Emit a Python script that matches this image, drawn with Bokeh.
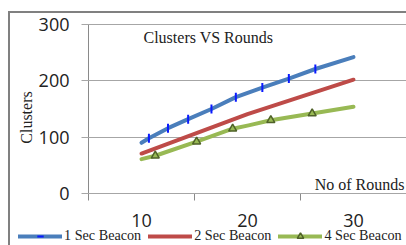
import math
from bokeh.plotting import figure
from bokeh.models import (FixedTicker, Label, Legend, LegendItem)
from bokeh.embed import file_html
from bokeh.resources import INLINE

# ---- data ----
x_ticks = [10, 20, 30]
x_tick_marks = [5, 15, 25, 35]
y_ticks = [0, 100, 200, 300]

beacon1_x = [10, 10.7, 12.5, 14.4, 16.6, 18.9, 21.4, 23.9, 26.4, 30]
beacon1_y = [90, 98, 116, 132, 150, 171, 188, 204, 221, 242]
beacon1_mark_x = [10.7, 12.5, 14.4, 16.6, 18.9, 21.4, 23.9, 26.4]
beacon1_mark_y = [98, 116, 132, 150, 171, 188, 204, 221]

beacon2_x = [10, 20, 30]
beacon2_y = [71, 141, 202]

beacon4_x = [10, 11.3, 15.2, 18.6, 20.1, 22.2, 26.1, 30]
beacon4_y = [61, 67, 92, 115, 121, 130, 142, 154]
beacon4_mark_x = [11.3, 15.2, 18.6, 22.2, 26.1]
beacon4_mark_y = [67, 92, 115, 130, 142]

series_labels = ["1 Sec Beacon", "2 Sec Beacon", "4 Sec Beacon"]
title_text = "Clusters VS Rounds"
x_title = "No of Rounds"
y_title = "Clusters"

BLUE = "#4a7ebb"
RED = "#be4b48"
GREEN = "#98b954"
AXIS = "#8a8a8a"
GRID = "#a6a6a6"
SERIF = "Liberation Serif"

W, H = 406, 245
AX_LEFT, AX_TOP, AX_BOTTOM = 88, 24, 193   # pixel positions of the value axes
xmin, xmax = 5, 35
ymin, ymax = 0, 300
xs = (W - AX_LEFT) / (xmax - xmin)
ys = (AX_BOTTOM - AX_TOP) / (ymax - ymin)
x_range = (xmin - AX_LEFT / xs, xmax)
y_range = (ymin - (H - AX_BOTTOM) / ys, ymax + AX_TOP / ys)

p = figure(width=W, height=H, output_backend="svg", toolbar_location=None,
           x_range=x_range, y_range=y_range,
           min_border_left=0, min_border_right=0, min_border_top=0, min_border_bottom=0)
p.border_fill_color = None
p.background_fill_color = None
p.outline_line_color = None
p.styles = {
    "background-image": "linear-gradient(#808080,#808080), linear-gradient(#808080,#808080)",
    "background-size": "2px 100%, 100% 2px",
    "background-position": "8px 11px, 8px 11px",
    "background-repeat": "no-repeat",
}
p.grid.visible = False

xa = p.xaxis[0]
xa.fixed_location = ymin
xa.bounds = (xmin, xmax)
xa.level = "underlay"
xa.ticker = FixedTicker(ticks=x_ticks, minor_ticks=x_tick_marks)
xa.axis_line_color = AXIS
xa.major_tick_line_color = None
xa.major_tick_out = 7
xa.major_tick_in = 0
xa.minor_tick_line_color = AXIS
xa.minor_tick_out = 7
xa.minor_tick_in = 0
xa.major_label_standoff = 13
xa.major_label_text_font = "Open Sans"
xa.major_label_text_font_size = "18px"
xa.major_label_text_color = "#222222"

ya = p.yaxis[0]
ya.fixed_location = xmin
ya.bounds = (ymin, ymax)
ya.level = "underlay"
ya.ticker = FixedTicker(ticks=y_ticks)
ya.axis_line_color = AXIS
ya.major_tick_line_color = GRID
ya.major_tick_out = 7
ya.major_tick_in = W - AX_LEFT
ya.minor_tick_line_color = None
ya.major_label_standoff = 12
ya.major_label_text_font = "Open Sans"
ya.major_label_text_font_size = "18px"
ya.major_label_text_color = "#222222"

r1 = p.line(beacon1_x, beacon1_y, line_color=BLUE, line_width=4, line_join="round", line_cap="round")
m1 = p.scatter(beacon1_mark_x, beacon1_mark_y, marker="dash", angle=math.pi / 2, size=9,
               line_color="#0a1aff", line_width=2)
r2 = p.line(beacon2_x, beacon2_y, line_color=RED, line_width=4, line_join="round", line_cap="round")
r4 = p.line(beacon4_x, beacon4_y, line_color=GREEN, line_width=4, line_join="round", line_cap="round")
m4 = p.scatter(beacon4_mark_x, beacon4_mark_y, marker="triangle", size=8,
               line_color="#4f6228", line_width=1.5, fill_color=GREEN)

legend = Legend(items=[
    LegendItem(label=series_labels[0], renderers=[r1, m1]),
    LegendItem(label=series_labels[1], renderers=[r2]),
    LegendItem(label=series_labels[2], renderers=[r4, m4]),
], location=(18, 1), orientation="horizontal")
legend.padding = 0
legend.margin = 0
legend.spacing = 7
legend.glyph_width = 44
legend.glyph_height = 16
legend.label_height = 16
legend.label_standoff = 2
legend.label_text_font = SERIF
legend.label_text_font_size = "14.2px"
legend.label_text_color = "#222222"
legend.border_line_color = None
legend.background_fill_color = None
p.add_layout(legend)

p.add_layout(Label(x=143, y=H - 37, x_units="screen", y_units="screen", text=title_text,
                   text_font=SERIF, text_font_size="16px", text_baseline="middle",
                   text_color="#222222"))
p.add_layout(Label(x=404, y=H - 184, x_units="screen", y_units="screen", text=x_title,
                   text_font=SERIF, text_font_size="16px", text_baseline="middle",
                   text_align="right", text_color="#222222"))
p.add_layout(Label(x=26, y=H - 117, x_units="screen", y_units="screen", text=y_title,
                   angle=math.pi / 2, text_font=SERIF, text_font_size="16px",
                   text_baseline="middle", text_align="center", text_color="#222222"))

open("out.html", "w").write(file_html(p, INLINE))
